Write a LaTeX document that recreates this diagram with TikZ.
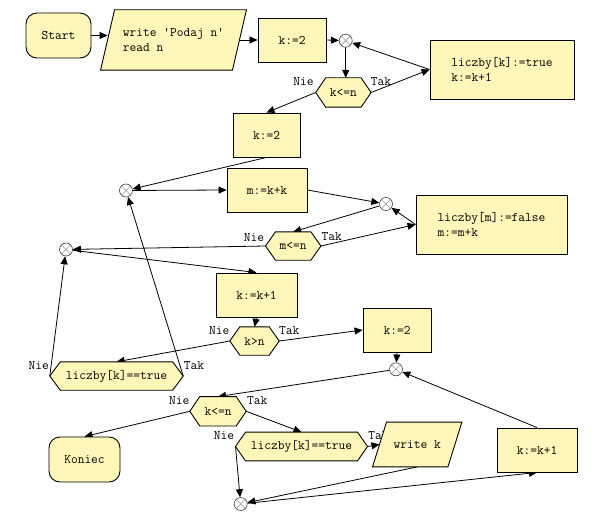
\documentclass[tikz,border=0pt]{standalone}
\usepackage{fontspec}
\usetikzlibrary{arrows.meta,backgrounds}
\definecolor{fy}{RGB}{255,247,185}
\tikzset{
  fbase/.style={font=\ttfamily\fontsize{13.1}{15.5}\selectfont, inner sep=0pt, align=left},
  fbox/.style={fbase, draw, fill=fy, line width=0.9pt},
  fterm/.style={fbox, rounded corners=11pt},
  fjunc/.style={circle, draw=black!75, fill=white, minimum size=13pt, inner sep=0pt, line width=0.6pt,
    path picture={\draw[black!40] (path picture bounding box.north west) -- (path picture bounding box.south east)
      (path picture bounding box.north east) -- (path picture bounding box.south west);}},
  flab/.style={font=\ttfamily\fontsize{13.1}{15.5}\selectfont, inner sep=0pt},
  fline/.style={-{Triangle[length=8pt,width=7pt]}, line width=0.8pt},
  fshape/.style={draw, fill=fy, line width=0.9pt}
}
\newcommand\hexshape[2]{%
  \draw[fshape] (#1.west) -- ([xshift=#2]#1.north west) -- ([xshift=-#2]#1.north east) -- (#1.east)
    -- ([xshift=-#2]#1.south east) -- ([xshift=#2]#1.south west) -- cycle;}
\newcommand\parashape[2]{%
  \draw[fshape] ([xshift=#2]#1.north west) -- ([xshift=#2]#1.north east)
    -- ([xshift=-#2]#1.south east) -- ([xshift=-#2]#1.south west) -- cycle;}
\begin{document}
\begin{tikzpicture}[x=1pt,y=-1pt]
\useasboundingbox (0,0) rectangle (607,524);
% terminals and boxes
\node[fterm, minimum width=65pt, minimum height=45pt] (s) at (58.5,35.5) {Start};
\node[fterm, minimum width=71pt, minimum height=45pt] (kon) at (84.5,459.5) {Koniec};
\node[fbox, minimum width=68pt, minimum height=44pt] (b1) at (292,40) {k:=2};
\node[fbox, minimum width=144pt, minimum height=59pt] (lt) at (502,69.5) {liczby[k]:=true\\k:=k+1};
\node[fbox, minimum width=67pt, minimum height=44pt] (b2) at (266.5,135) {k:=2};
\node[fbox, minimum width=80pt, minimum height=44pt] (m) at (267,190) {m:=k+k};
\node[fbox, minimum width=151pt, minimum height=59pt] (lf) at (491.5,224.5) {liczby[m]:=false\\m:=m+k};
\node[fbox, minimum width=81pt, minimum height=44pt] (kk) at (256.5,295) {k:=k+1};
\node[fbox, minimum width=68pt, minimum height=44pt] (b3) at (397,330) {k:=2};
\node[fbox, minimum width=80pt, minimum height=44pt] (kr) at (537,450) {k:=k+1};
% parallelograms and hexagons (text; outlines on background)
\node[fbase, minimum width=131.5pt, minimum height=60pt] (wr) at (173.5,40) {write 'Podaj n'\\read n};
\node[fbase, minimum width=75pt, minimum height=44.4pt] (wk) at (417.2,444.5) {write k};
\node[fbase, minimum width=55pt, minimum height=29pt] (h1) at (343.4,92.5) {k<=n};
\node[fbase, minimum width=55pt, minimum height=28pt] (mh) at (293.2,246) {m<=n};
\node[fbase, minimum width=49pt, minimum height=28pt] (kh) at (254.5,341) {k>n};
\node[fbase, minimum width=133pt, minimum height=28pt] (lh) at (116.5,376) {liczby[k]==true};
\node[fbase, minimum width=56pt, minimum height=29pt] (kh2) at (218,411.3) {k<=n};
\node[fbase, minimum width=131.6pt, minimum height=28.4pt] (lh2) at (301.5,446.5) {liczby[k]==true};
% junctions
\node[fjunc] (c1) at (345.7,40.7) {};
\node[fjunc] (c2) at (126,190.5) {};
\node[fjunc] (c3) at (386,204) {};
\node[fjunc] (c4) at (66,249.5) {};
\node[fjunc] (c5) at (396,369.3) {};
\node[fjunc] (c6) at (240.7,504) {};
% labels
\node[flab] (l1) at (303.5,82) {Nie};
\node[flab] (l2) at (381,82) {Tak};
\node[flab] (l3) at (254,237.3) {Nie};
\node[flab] (l4) at (331.7,237) {Tak};
\node[flab] (l5) at (219.3,331) {Nie};
\node[flab] (l6) at (289.3,331) {Tak};
\node[flab] (l7) at (38.8,366) {Nie};
\node[flab] (l8) at (194,366) {Tak};
\node[flab] (l9) at (179.3,400.7) {Nie};
\node[flab] (l10) at (257.3,401) {Tak};
\node[flab] (l11) at (224,436) {Nie};
\begin{scope}[on background layer]
\node[flab] (l12) at (378.5,435.7) {Tak};
% connectors
\draw[fline] (s.east) -- (s.east -| wr.west);
\draw[fline] (wr.east) -- (b1.west);
\draw[fline] (b1.east) -- (c1);
\draw[fline] (c1) -- (c1 |- h1.north);
\draw[fline] (h1.east) -- (lt.west);
\draw[fline] (lt.west) -- (c1);
\draw[fline] (h1.west) -- (b2.north);
\draw[fline] (b2.south) -- (c2);
\draw[fline] (c2) -- (m.west);
\draw[fline] (m.east) -- (c3);
\draw[fline] (c3) -- (mh.north);
\draw[fline] (mh.east) -- (lf.west);
\draw[fline] (lf.west) -- (c3);
\draw[fline] (mh.west) -- (c4);
\draw[fline] (c4) -- (kk.north);
\draw[fline] (kk.south) -- (kh.north);
\draw[fline] (kh.east) -- (b3.west);
\draw[fline] (kh.west) -- (lh.north);
\draw[fline] (lh.west) -- (c4);
\draw[fline] (lh.east) -- (c2);
\draw[fline] (b3.south) -- (c5);
\draw[fline] (c5) -- (kh2.north);
\draw[fline] (kh2.west) -- (kon.north);
\draw[fline] (kh2.east) -- (lh2.north);
\draw[fline] (lh2.east) -- (wk.west);
\draw[fline] (lh2.west) -- (c6);
\draw[fline] (wk.south) -- (c6);
\draw[fline] (c6) -- (kr.south);
\draw[fline] (kr.north) -- (c5);
% shapes
\parashape{wr}{7pt}
\parashape{wk}{7pt}
\hexshape{h1}{10pt}
\hexshape{mh}{10pt}
\hexshape{kh}{10pt}
\hexshape{lh}{10.5pt}
\hexshape{kh2}{10pt}
\hexshape{lh2}{10pt}
\end{scope}
\end{tikzpicture}
\end{document}
